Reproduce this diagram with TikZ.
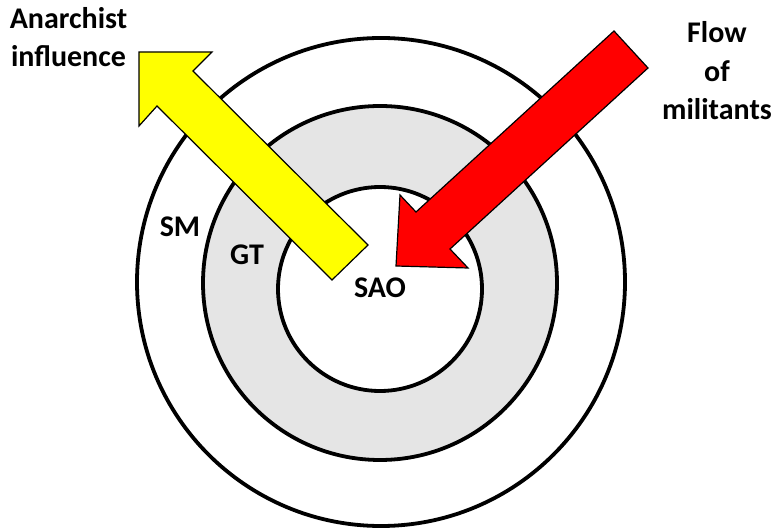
\documentclass[tikz,border=0pt]{standalone}
\usepackage{fontspec}
\setmainfont{Carlito}
\begin{document}
\begin{tikzpicture}[x=1pt,y=1pt,
  ring/.style={draw=black,line width=3.8pt},
  blockarrow/.style={draw=black,line width=1.2pt,line join=miter},
  lbl/.style={text=black,anchor=base,inner sep=0pt,outer sep=0pt,
    font=\fontsize{30}{38.5}\selectfont\bfseries,align=center}]
\definecolor{fillColor}{RGB}{255,255,255}
\path[use as bounding box,fill=fillColor] (0,0) rectangle (781,532);

% the three circles
\definecolor{ringColor}{gray}{0.90}
\path[ring,fill=white] (381,250) circle (244);
\path[ring,fill=ringColor] (380,249) circle (177);
\path[ring,fill=white] (380,243) circle (102);

% yellow arrow, going out
\definecolor{outColor}{RGB}{255,255,0}
\path[blockarrow,fill=outColor] (368,287) -- (193,461) -- (212,480) --
	(139,480) -- (139,406) -- (157,426) -- (332,252) -- cycle;

% red arrow, coming in
\definecolor{inColor}{RGB}{255,0,0}
\path[blockarrow,fill=inColor] (614,501) -- (416,320) -- (400,337) --
	(396,266) -- (468,264) -- (450,283) -- (648,464) -- cycle;

% labels (base = last line)
\node[lbl] (anarchist) at ( 68.5,465) {Anarchist\\influence};
\node[lbl] (flow) at (717,412) {Flow\\of\\militants};
\node[lbl] (sm) at (180,295) {SM};
\node[lbl] (gt) at (247,267) {GT};
\node[lbl] (sao) at (380,234) {SAO};
\end{tikzpicture}
\end{document}
